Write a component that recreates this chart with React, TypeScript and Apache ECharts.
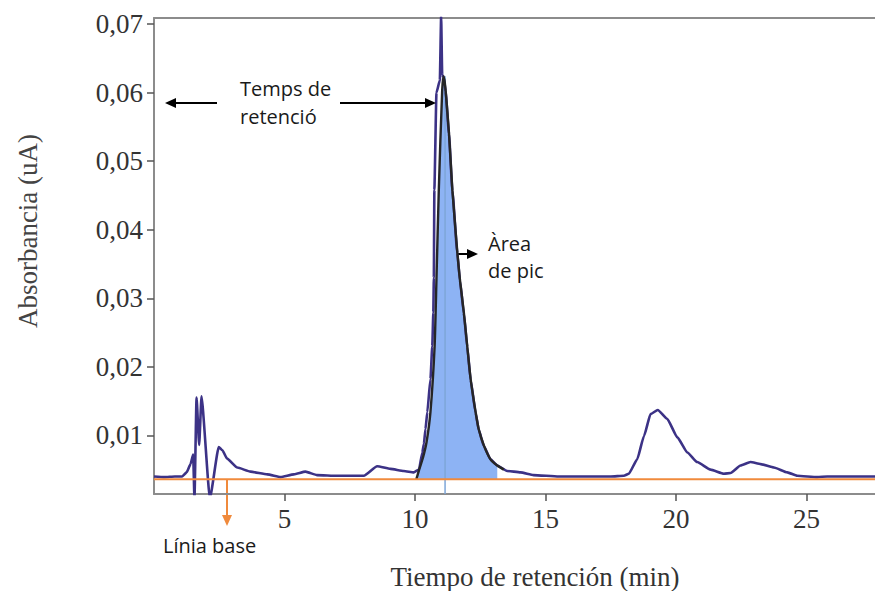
import React, { useEffect, useRef } from "react";
import * as echarts from "echarts";

// ---- data ----
const xTicks = [5, 10, 15, 20, 25];
const yTicks = [0.01, 0.02, 0.03, 0.04, 0.05, 0.06, 0.07];
const xMin = 0;
const xMax = 27.62;
const yMin = 0.00144;
const yMax = 0.0709;
const baseline = 0.0036;
const retentionTime = 11.15;
const retentionTop = 0.0624;
const areaEnd = 13.15;

const chromatogram: [number, number][] = [
  [0.0, 0.004], [0.4, 0.0039], [0.8, 0.004], [1.08, 0.004], [1.25, 0.0046],
  [1.4, 0.0058], [1.5, 0.0072], [1.55, 0.0008], [1.63, 0.0155], [1.73, 0.0086],
  [1.82, 0.0157], [2.14, 0.0008], [2.48, 0.0083], [2.62, 0.0078], [2.8, 0.0066],
  [3.19, 0.0053], [3.7, 0.0047], [4.34, 0.0043], [4.85, 0.0039], [5.36, 0.0043],
  [5.8, 0.0047], [6.25, 0.0042], [7.02, 0.0041], [8.04, 0.0041], [8.55, 0.0055],
  [9.06, 0.0051], [9.57, 0.0048], [9.95, 0.0046], [10.15, 0.005], [10.28, 0.0075],
  [10.34, 0.0088], [10.4, 0.0109], [10.47, 0.0134], [10.59, 0.0182], [10.66, 0.023],
  [10.7, 0.0279], [10.72, 0.033], [10.74, 0.0458], [10.82, 0.06], [10.95, 0.0618],
  [11.0, 0.0712], [11.04, 0.0626], [11.1, 0.0622], [11.17, 0.0602], [11.3, 0.054],
  [11.43, 0.0457], [11.62, 0.0366], [11.72, 0.0326], [11.87, 0.0278], [12.0, 0.0229],
  [12.13, 0.0181], [12.32, 0.0133], [12.44, 0.0108], [12.64, 0.0084], [12.89, 0.0065],
  [13.15, 0.0056], [13.53, 0.0048], [14.04, 0.0046], [14.54, 0.0042], [15.5, 0.004],
  [16.5, 0.004], [17.5, 0.004], [18.0, 0.0041], [18.19, 0.0044], [18.51, 0.0065],
  [18.77, 0.0099], [19.02, 0.0131], [19.3, 0.0137], [19.66, 0.0124], [20.05, 0.0097],
  [20.43, 0.0075], [20.81, 0.0061], [21.32, 0.005], [21.83, 0.0044], [22.09, 0.0045],
  [22.47, 0.0056], [22.85, 0.0061], [23.24, 0.0058], [23.75, 0.0053], [24.26, 0.0046],
  [24.64, 0.0041], [25.41, 0.0039], [25.79, 0.004], [26.69, 0.004], [27.62, 0.004],
];

const fittedPeak: [number, number][] = [
  [10.05, 0.0036], [10.15, 0.0049], [10.3, 0.0067], [10.44, 0.009], [10.59, 0.0134],
  [10.75, 0.023], [10.82, 0.0327], [10.91, 0.0458], [11.04, 0.0604], [11.1, 0.0624],
  [11.17, 0.0604], [11.3, 0.0541], [11.43, 0.0458], [11.62, 0.0367], [11.72, 0.0327],
  [11.87, 0.0279], [12.0, 0.023], [12.13, 0.0182], [12.32, 0.0134], [12.44, 0.0109],
  [12.64, 0.0085], [12.89, 0.0065], [13.15, 0.0056], [13.4, 0.005],
];

const peakArea = fittedPeak.filter(([x]) => x <= areaEnd);

const SERIF = "'Liberation Serif', 'Times New Roman', serif";
const SANS = "'Open Sans', 'Noto Sans', sans-serif";
const AXIS_GRAY = "#8c8c8c";

function arrowHead(tipX: number, tipY: number, dir: "left" | "right" | "down", color: string) {
  const L = 11;
  const W = 5;
  let pts: number[][];
  if (dir === "left") pts = [[tipX, tipY], [tipX + L, tipY - W], [tipX + L, tipY + W]];
  else if (dir === "right") pts = [[tipX, tipY], [tipX - L, tipY - W], [tipX - L, tipY + W]];
  else pts = [[tipX, tipY], [tipX - W, tipY - L], [tipX + W, tipY - L]];
  return { type: "polygon", shape: { points: pts }, style: { fill: color }, z: 100 };
}

export default function App() {
  const ref = useRef<HTMLDivElement>(null);
  useEffect(() => {
    if (!ref.current) return;
    const chart = echarts.init(ref.current, undefined, { renderer: "svg" });
    const option: any = {
      animation: false,
      backgroundColor: "#ffffff",
      grid: { left: 154, right: 0, top: 18, bottom: 97 },
      xAxis: [
        {
          type: "value",
          min: xMin,
          max: xMax,
          position: "bottom",
          axisLine: { show: true, onZero: false, lineStyle: { color: AXIS_GRAY, width: 2 } },
          axisTick: { show: true, customValues: xTicks, length: 7, lineStyle: { color: "#555", width: 1.5 } },
          axisLabel: {
            customValues: xTicks,
            fontFamily: SERIF,
            fontSize: 27,
            color: "#333",
            margin: 11,
          },
          splitLine: { show: false },
        },
        {
          type: "value",
          min: xMin,
          max: xMax,
          position: "top",
          axisLine: { show: true, onZero: false, lineStyle: { color: AXIS_GRAY, width: 2 } },
          axisTick: { show: false },
          axisLabel: { show: false },
          splitLine: { show: false },
        },
      ],
      yAxis: {
        type: "value",
        min: yMin,
        max: yMax,
        axisLine: { show: true, onZero: false, lineStyle: { color: AXIS_GRAY, width: 2 } },
        axisTick: { show: true, customValues: yTicks, length: 7, lineStyle: { color: "#555", width: 1.5 } },
        axisLabel: {
          customValues: yTicks,
          formatter: (v: number) => v.toFixed(2).replace(".", ","),
          fontFamily: SERIF,
          fontSize: 27,
          color: "#333",
          margin: 11,
        },
        splitLine: { show: false },
      },
      series: [
        {
          name: "area",
          type: "line",
          data: peakArea,
          symbol: "none",
          smooth: 0.2,
          lineStyle: { width: 0 },
          areaStyle: { color: "#8db3f4", opacity: 1, origin: baseline },
          z: 1,
          silent: true,
        },
        {
          name: "rt",
          type: "line",
          data: [
            [retentionTime, yMin],
            [retentionTime, retentionTop],
          ],
          symbol: "none",
          lineStyle: { color: "#7ea6d8", width: 1.5 },
          z: 2,
          silent: true,
        },
        {
          name: "chrom",
          type: "line",
          data: chromatogram,
          symbol: "none",
          smooth: 0.15,
          smoothMonotone: "x",
          lineStyle: { color: "#3c3286", width: 2.6 },
          z: 3,
          silent: true,
        },
        {
          name: "fit",
          type: "line",
          data: fittedPeak,
          symbol: "none",
          smooth: 0.2,
          lineStyle: { color: "#262626", width: 2.4 },
          z: 4,
          silent: true,
        },
        {
          name: "baseline",
          type: "line",
          data: [
            [xMin, baseline],
            [xMax, baseline],
          ],
          symbol: "none",
          lineStyle: { color: "#f08a3c", width: 2 },
          z: 5,
          silent: true,
        },
      ],
      graphic: [
        {
          type: "text",
          x: 28,
          y: 231,
          rotation: Math.PI / 2,
          style: {
            text: "Absorbancia (uA)",
            font: `27px ${SERIF}`,
            fill: "#444",
            align: "center",
            verticalAlign: "middle",
          },
        },
        {
          type: "text",
          x: 535,
          y: 577,
          style: {
            text: "Tiempo de retención (min)",
            font: `27px ${SERIF}`,
            fill: "#333",
            align: "center",
            verticalAlign: "middle",
          },
        },
        { type: "text", x: 240, y: 88, style: { text: "Temps de", font: `20px ${SANS}`, fill: "#1a1a1a", verticalAlign: "middle" } },
        { type: "text", x: 240, y: 116, style: { text: "retenció", font: `20px ${SANS}`, fill: "#1a1a1a", verticalAlign: "middle" } },
        { type: "line", shape: { x1: 217, y1: 103, x2: 172, y2: 103 }, style: { stroke: "#000", lineWidth: 2 } },
        arrowHead(165, 103, "left", "#000"),
        { type: "line", shape: { x1: 340, y1: 103, x2: 428, y2: 103 }, style: { stroke: "#000", lineWidth: 2 } },
        arrowHead(436, 103, "right", "#000"),
        { type: "text", x: 488, y: 243, style: { text: "Àrea", font: `20px ${SANS}`, fill: "#1a1a1a", verticalAlign: "middle" } },
        { type: "text", x: 488, y: 270, style: { text: "de pic", font: `20px ${SANS}`, fill: "#1a1a1a", verticalAlign: "middle" } },
        { type: "line", shape: { x1: 458, y1: 254, x2: 470, y2: 254 }, style: { stroke: "#000", lineWidth: 2 } },
        arrowHead(478, 254, "right", "#000"),
        { type: "line", shape: { x1: 227, y1: 480, x2: 227, y2: 518 }, style: { stroke: "#f08a3c", lineWidth: 2 } },
        arrowHead(227, 526, "down", "#f08a3c"),
        { type: "text", x: 163, y: 545, style: { text: "Línia base", font: `20px ${SANS}`, fill: "#1a1a1a", verticalAlign: "middle" } },
      ],
    };
    chart.setOption(option);
    return () => chart.dispose();
  }, []);
  return <div ref={ref} style={{ position: "fixed", left: 0, top: 0, width: 875, height: 591 }} />;
}
